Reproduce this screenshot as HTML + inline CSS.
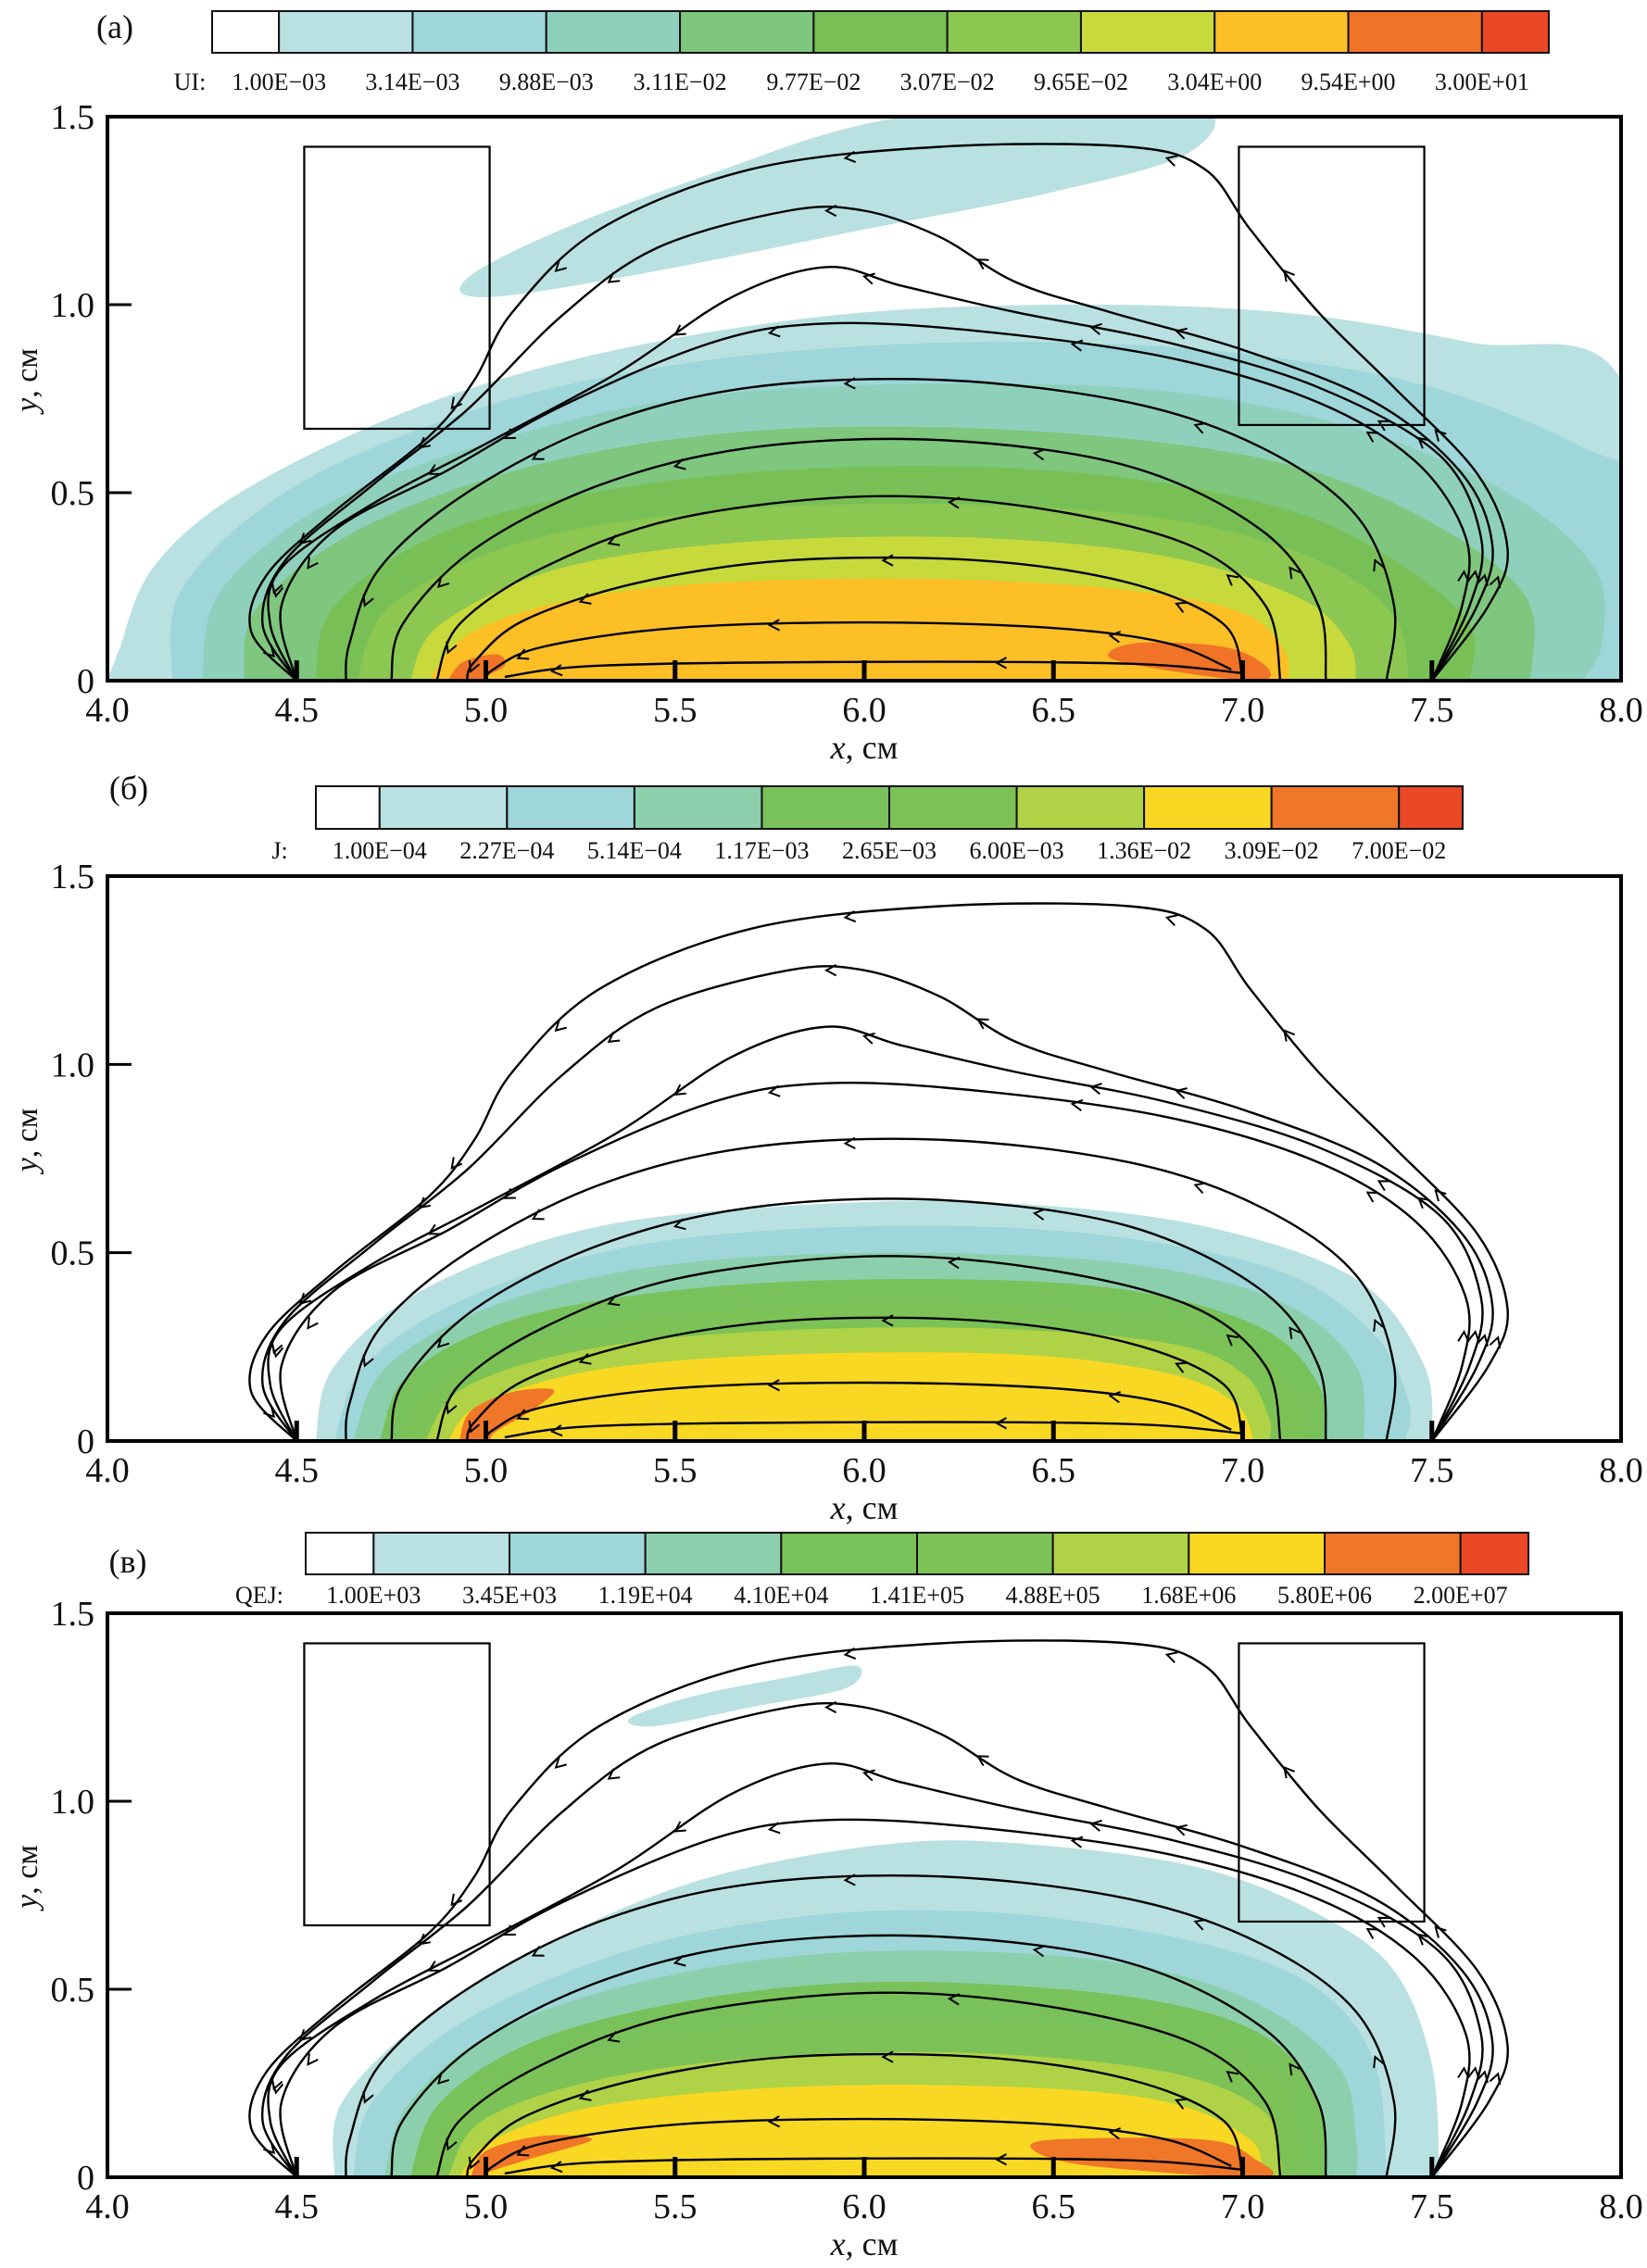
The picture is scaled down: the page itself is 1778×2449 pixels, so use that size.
<!DOCTYPE html>
<html><head><meta charset="utf-8">
<style>
html,body{margin:0;padding:0;background:#fff;}
svg{display:block;font-family:"Liberation Serif",serif;}
</style></head>
<body>
<svg id="fig" xmlns="http://www.w3.org/2000/svg" width="1778" height="2449" viewBox="0 0 1778 2449"></svg>
<script>
// ---------- data ----------
const xTicks = [4.0,4.5,5.0,5.5,6.0,6.5,7.0,7.5,8.0];
const yTicks = [0,0.5,1.0,1.5];
const yTickLabels = ["0","0.5","1.0","1.5"];
const electrodeTicks = [4.5,5.0,5.5,6.0,6.5,7.0,7.5];

const legendA = ["1.00E\u221203","3.14E\u221203","9.88E\u221203","3.11E\u221202","9.77E\u221202","3.07E\u221202","9.65E\u221202","3.04E+00","9.54E+00","3.00E+01"];
const legendB = ["1.00E\u221204","2.27E\u221204","5.14E\u221204","1.17E\u221203","2.65E\u221203","6.00E\u221203","1.36E\u221202","3.09E\u221202","7.00E\u221202"];
const legendC = ["1.00E+03","3.45E+03","1.19E+04","4.10E+04","1.41E+05","4.88E+05","1.68E+06","5.80E+06","2.00E+07"];
const colorsA = ["#ffffff","#b9e1e1","#9ed6d9","#8fd0bc","#7fc67e","#78c056","#8cc752","#c8d93c","#fcbf26","#f07328","#ea4825"];
const colorsBC = ["#ffffff","#b9e1e1","#9ed6d9","#8ccfac","#79c15a","#7cc256","#b0d246","#f9d823","#f07628","#ea4827"];

// contour levels (data coords), index = colour index
const contoursA = [
 [1,[[4.0,0],[4.03,0.08],[4.12,0.3],[4.35,0.5],[4.8,0.72],[5.3,0.87],[5.9,0.97],[6.5,1.0],[7.1,0.98],[7.6,0.9],[8.0,0.8],[8.1,0]]],
 [1,[[4.95,1.07],[5.2,1.2],[5.6,1.35],[6.0,1.48],[6.5,1.55],[6.9,1.52],[6.85,1.4],[6.5,1.3],[6.0,1.2],[5.4,1.08],[5.0,1.02]]],
 [2,[[4.17,0],[4.2,0.25],[4.5,0.52],[5.0,0.73],[5.5,0.84],[6.0,0.89],[6.5,0.9],[7.0,0.87],[7.5,0.78],[7.9,0.62],[8.05,0.5],[8.05,0]]],
 [3,[[4.25,0],[4.3,0.24],[4.6,0.48],[5.1,0.66],[5.6,0.76],[6.2,0.79],[6.8,0.77],[7.3,0.67],[7.7,0.5],[7.93,0.3],[7.95,0.1],[7.9,0]]],
 [4,[[4.36,0],[4.4,0.2],[4.7,0.42],[5.2,0.59],[5.8,0.67],[6.5,0.66],[7.1,0.58],[7.5,0.42],[7.75,0.22],[7.76,0]]],
 [5,[[4.55,0],[4.6,0.2],[4.9,0.4],[5.4,0.52],[6.0,0.57],[6.6,0.55],[7.1,0.46],[7.4,0.32],[7.6,0.15],[7.6,0]]],
 [6,[[4.66,0],[4.75,0.2],[5.1,0.37],[5.6,0.45],[6.2,0.47],[6.8,0.43],[7.2,0.32],[7.4,0.17],[7.44,0]]],
 [7,[[4.8,0],[4.88,0.15],[5.2,0.3],[5.7,0.37],[6.3,0.38],[6.8,0.33],[7.15,0.22],[7.28,0.1],[7.3,0]]],
 [8,[[4.85,0],[4.95,0.12],[5.2,0.21],[5.6,0.26],[6.2,0.27],[6.7,0.24],[7.0,0.18],[7.11,0.08],[7.12,0]]],
 [9,[[4.9,0],[4.94,0.05],[5.03,0.07],[5.05,0.04],[5.0,0.01]]],
 [9,[[6.65,0.06],[6.72,0.1],[6.95,0.09],[7.06,0.04],[7.05,0],[6.85,0.02]]]
];
const contoursB = [
 [1,[[4.55,0],[4.6,0.2],[4.85,0.41],[5.3,0.57],[5.9,0.63],[6.4,0.63],[6.9,0.57],[7.3,0.43],[7.48,0.2],[7.5,0]]],
 [2,[[4.6,0],[4.68,0.2],[4.95,0.38],[5.4,0.52],[6.0,0.57],[6.6,0.55],[7.1,0.45],[7.35,0.28],[7.44,0.1],[7.43,0]]],
 [3,[[4.65,0],[4.74,0.2],[5.05,0.37],[5.5,0.47],[6.1,0.5],[6.7,0.47],[7.1,0.37],[7.3,0.2],[7.32,0]]],
 [4,[[4.72,0],[4.8,0.18],[5.1,0.33],[5.6,0.41],[6.2,0.43],[6.7,0.4],[7.05,0.3],[7.2,0.15],[7.22,0]]],
 [5,[[4.78,0],[4.87,0.15],[5.2,0.28],[5.7,0.35],[6.3,0.36],[6.8,0.32],[7.05,0.22],[7.15,0.1],[7.16,0]]],
 [6,[[4.84,0],[4.94,0.14],[5.25,0.24],[5.7,0.29],[6.3,0.3],[6.8,0.26],[7.0,0.18],[7.07,0.06],[7.07,0]]],
 [7,[[4.9,0],[4.99,0.1],[5.3,0.19],[5.8,0.23],[6.4,0.23],[6.8,0.18],[6.98,0.1],[7.03,0]]],
 [8,[[4.93,0],[4.96,0.08],[5.07,0.13],[5.18,0.135],[5.12,0.08],[5.02,0.02]]]
];
const contoursC = [
 [1,[[4.6,0],[4.62,0.2],[4.85,0.43],[5.2,0.64],[5.6,0.8],[6.1,0.89],[6.5,0.88],[6.9,0.82],[7.2,0.7],[7.4,0.55],[7.5,0.3],[7.52,0]]],
 [1,[[5.38,1.22],[5.55,1.28],[5.8,1.33],[5.98,1.36],[5.95,1.3],[5.7,1.25],[5.45,1.2]]],
 [2,[[4.65,0],[4.7,0.2],[4.95,0.42],[5.4,0.61],[5.9,0.7],[6.4,0.7],[6.9,0.62],[7.2,0.5],[7.35,0.3],[7.38,0]]],
 [3,[[4.73,0],[4.8,0.2],[5.05,0.4],[5.5,0.54],[6.0,0.6],[6.6,0.58],[7.0,0.48],[7.25,0.3],[7.3,0.1],[7.3,0]]],
 [4,[[4.8,0],[4.88,0.2],[5.15,0.37],[5.6,0.48],[6.1,0.52],[6.7,0.48],[7.05,0.38],[7.2,0.2],[7.22,0]]],
 [5,[[4.85,0],[4.94,0.18],[5.25,0.32],[5.7,0.4],[6.2,0.42],[6.7,0.38],[7.05,0.28],[7.15,0.12],[7.15,0]]],
 [6,[[4.9,0],[4.99,0.15],[5.3,0.26],[5.75,0.32],[6.3,0.33],[6.8,0.28],[7.05,0.18],[7.1,0.05],[7.1,0]]],
 [7,[[4.93,0],[5.02,0.1],[5.3,0.19],[5.8,0.24],[6.4,0.24],[6.8,0.2],[7.02,0.1],[7.05,0]]],
 [8,[[4.96,0],[5.0,0.07],[5.15,0.11],[5.28,0.1],[5.12,0.05],[5.0,0.01]]],
 [8,[[6.45,0.07],[6.5,0.1],[6.9,0.1],[7.03,0.05],[7.05,0],[6.6,0.03]]]
];

// streamlines (ordered in direction of flow)
const streamlines = [
 [[7.5,0],[7.65,0.2],[7.7,0.35],[7.62,0.55],[7.4,0.78],[7.2,0.98],[7.02,1.2],[6.9,1.36],[6.7,1.42],[6.2,1.42],[5.7,1.36],[5.3,1.2],[5.07,0.98],[4.97,0.8],[4.85,0.65],[4.6,0.45],[4.42,0.28],[4.38,0.13],[4.5,0]],
 [[7.5,0],[7.62,0.2],[7.66,0.36],[7.58,0.55],[7.35,0.74],[7.0,0.88],[6.65,0.98],[6.4,1.06],[6.2,1.18],[6.0,1.25],[5.8,1.25],[5.45,1.15],[5.2,0.97],[4.95,0.72],[4.7,0.52],[4.47,0.32],[4.41,0.15],[4.5,0]],
 [[7.5,0],[7.6,0.2],[7.63,0.38],[7.52,0.6],[7.2,0.78],[6.8,0.9],[6.4,0.98],[6.1,1.05],[5.9,1.1],[5.65,1.02],[5.35,0.82],[5.0,0.63],[4.7,0.47],[4.46,0.3],[4.43,0.15],[4.5,0]],
 [[7.5,0],[7.58,0.2],[7.59,0.38],[7.46,0.58],[7.2,0.74],[6.8,0.86],[6.3,0.93],[5.9,0.95],[5.6,0.9],[5.2,0.73],[4.9,0.56],[4.6,0.4],[4.46,0.2],[4.5,0]],
 [[7.38,0],[7.4,0.2],[7.3,0.44],[7.05,0.62],[6.7,0.74],[6.2,0.8],[5.7,0.78],[5.3,0.68],[4.95,0.5],[4.72,0.3],[4.64,0.1],[4.63,0]],
 [[7.22,0],[7.2,0.2],[7.05,0.4],[6.7,0.57],[6.2,0.64],[5.7,0.62],[5.3,0.52],[4.97,0.35],[4.78,0.15],[4.75,0]],
 [[7.1,0],[7.06,0.2],[6.86,0.36],[6.45,0.46],[6.0,0.49],[5.5,0.43],[5.15,0.3],[4.93,0.15],[4.87,0]],
 [[7.0,0],[6.95,0.15],[6.7,0.26],[6.3,0.32],[5.8,0.32],[5.4,0.26],[5.1,0.16],[4.97,0.05],[4.95,0]],
 [[6.97,0.03],[6.8,0.1],[6.5,0.14],[6.0,0.155],[5.5,0.14],[5.15,0.09],[5.02,0.03],[5.0,0]],
 [[7.0,0.02],[6.7,0.045],[6.0,0.05],[5.3,0.04],[5.05,0.01]]
];
const magnetLeft = [4.52,5.01,0.67,1.42];
const magnetRight = [6.99,7.48,0.68,1.42];

// ---------- layout ----------
const NS = "http://www.w3.org/2000/svg";
const svg = document.getElementById('fig');
const PL = 116, PR = 1750;
function mk(tag, attrs, parent){ const e=document.createElementNS(NS,tag); for(const k in attrs) e.setAttribute(k,attrs[k]); (parent||svg).appendChild(e); return e; }

function smoothPath(pts, closed){
  const n=pts.length; let d="M"+pts[0][0].toFixed(1)+","+pts[0][1].toFixed(1);
  const get=i=> closed ? pts[(i+n)%n] : pts[Math.max(0,Math.min(n-1,i))];
  const last = closed? n : n-1;
  for(let i=0;i<last;i++){
    const p0=get(i-1),p1=get(i),p2=get(i+1),p3=get(i+2);
    const c1=[p1[0]+(p2[0]-p0[0])/6,p1[1]+(p2[1]-p0[1])/6];
    const c2=[p2[0]-(p3[0]-p1[0])/6,p2[1]-(p3[1]-p1[1])/6];
    d+=" C"+c1[0].toFixed(1)+","+c1[1].toFixed(1)+" "+c2[0].toFixed(1)+","+c2[1].toFixed(1)+" "+p2[0].toFixed(1)+","+p2[1].toFixed(1);
  }
  return d+(closed?" Z":"");
}

function panel(id, top, bot, contours, colors, magnets){
  const X = v => PL + (v-4)/4*(PR-PL);
  const Y = v => bot - v/1.5*(bot-top);
  const g = mk('g',{});
  
  
  const clip = mk('clipPath',{id:'clip'+id},g);
  mk('rect',{x:PL,y:top,width:PR-PL,height:bot-top},clip);
  const cg = mk('g',{'clip-path':'url(#clip'+id+')'},g);
  contours.forEach((c,i)=>{
    const pts=c[1].map(p=>[X(p[0]),Y(p[1])]);
    const touchesBottom = c[1][0][1]===0;
    let d;
    if(touchesBottom){ pts.push([pts[pts.length-1][0],bot+5]); pts.unshift([pts[0][0],bot+5]); d=smoothPath(pts,false)+" Z"; }
    else d=smoothPath(pts,true);
    const p=mk('path',{d:d,fill:colors[c[0]],stroke:'none'},cg);
    
    
  });
  if(magnets){
    [magnetLeft,magnetRight].forEach((m,k)=>{
      const r=mk('rect',{x:X(m[0]),y:Y(m[3]),width:X(m[1])-X(m[0]),height:Y(m[2])-Y(m[3]),fill:'none',stroke:'#000','stroke-width':2.2},g);
      
      
    });
  }
  streamlines.forEach((s,i)=>{
    const pts=s.map(p=>[X(p[0]),Y(p[1])]);
    const p=mk('path',{d:smoothPath(pts,false),fill:'none',stroke:'#000','stroke-width':2.4},cg);
    
    
    for(let j=1;j<pts.length-1;j+=2){
      const a=pts[j],b=pts[j+1];
      const mx=(a[0]+b[0])/2,my=(a[1]+b[1])/2;
      const ang=Math.atan2(b[1]-a[1],b[0]-a[0]);
      const L=12,w=0.5;
      const p1=[mx-L*Math.cos(ang-w),my-L*Math.sin(ang-w)];
      const p2=[mx-L*Math.cos(ang+w),my-L*Math.sin(ang+w)];
      const ar=mk('path',{d:`M${p1[0].toFixed(1)},${p1[1].toFixed(1)} L${mx.toFixed(1)},${my.toFixed(1)} L${p2[0].toFixed(1)},${p2[1].toFixed(1)}`,fill:'none',stroke:'#000','stroke-width':2},cg);
      
      
    }
  });
  electrodeTicks.forEach(v=>{
    const t=mk('line',{x1:X(v),x2:X(v),y1:bot,y2:bot-22,stroke:'#000','stroke-width':5},g);
    
    
  });
  const fr=mk('rect',{x:PL,y:top,width:PR-PL,height:bot-top,fill:'none',stroke:'#000','stroke-width':4},g);
  
  
  yTicks.forEach((v,i)=>{
    if(v>0&&v<1.5){ const t=mk('line',{x1:PL,x2:PL+26,y1:Y(v),y2:Y(v),stroke:'#000','stroke-width':3},g);
        }
    const tx=mk('text',{x:PL-14,y:Y(v)+13,'text-anchor':'end','font-size':38,fill:'#111'},g);
    tx.textContent=yTickLabels[i];
    
    
  });
  xTicks.forEach(v=>{
    const tx=mk('text',{x:X(v),y:bot+44,'text-anchor':'middle','font-size':38,fill:'#111'},g);
    tx.textContent=v.toFixed(1);
    
    
  });
  const xt=mk('text',{x:(PL+PR)/2,y:bot+84,'text-anchor':'middle','font-size':36,fill:'#111'},g);
  xt.innerHTML='<tspan font-style="italic">x</tspan>, см';
  
  
  const cy=(top+bot)/2-20;
  const yt=mk('text',{x:0,y:0,'text-anchor':'middle','font-size':34,fill:'#111',transform:`translate(40,${cy}) rotate(-90)`},g);
  yt.innerHTML='<tspan font-style="italic">y</tspan>, см';
  
  
}

function colorbar(id, x0, x1, y0, y1, ly, labels, colors, title, titleX, tag, tagX, tagY){
  const g=mk('g',{});
  
  
  const n=colors.length; const w=(x1-x0)/(n-1);
  let x=x0;
  for(let i=0;i<n;i++){
    const cw=(i===0||i===n-1)?w/2:w;
    const r=mk('rect',{x:x,y:y0,width:cw,height:y1-y0,fill:colors[i],stroke:'#111','stroke-width':2},g);
    
    
    x+=cw;
  }
  labels.forEach((l,i)=>{
    const t=mk('text',{x:x0+w/2+i*w,y:ly+9,'text-anchor':'middle','font-size':26,fill:'#111'},g);
    t.textContent=l;
    
    
  });
  const tt=mk('text',{x:titleX,y:ly+9,'text-anchor':'middle','font-size':26,fill:'#111'},g);
  tt.textContent=title;
  
  
  const pt=mk('text',{x:tagX,y:tagY+12,'text-anchor':'middle','font-size':36,fill:'#111'},g);
  pt.textContent=tag;
  
  
}

colorbar('a',229,1672,12,57,88,legendA,colorsA,'UI:',205,'(a)',124,29);
panel('a',126,735,contoursA,colorsA,true);
colorbar('b',341,1579,849,895,918,legendB,colorsBC,'J:',302,'(б)',139,851);
panel('b',946,1556,contoursB,colorsBC,false);
colorbar('c',330,1650,1655,1700,1722,legendC,colorsBC,'QEJ:',280,'(в)',138,1686);
panel('c',1742,2351,contoursC,colorsBC,true);
</script>
</body></html>
